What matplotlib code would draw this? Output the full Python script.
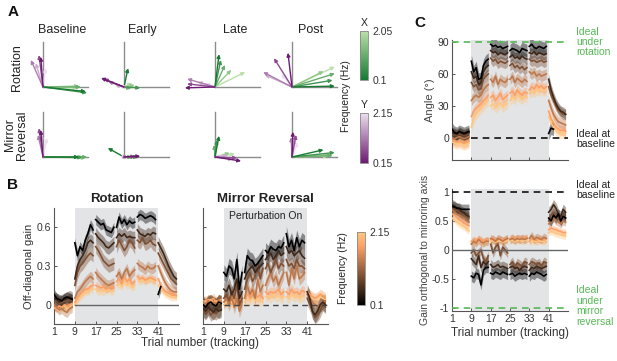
import matplotlib
matplotlib.use("Agg")
import matplotlib.pyplot as plt
import numpy as np
from matplotlib.colors import LinearSegmentedColormap, Normalize
from matplotlib.cm import ScalarMappable

plt.rcParams["font.family"] = ["Liberation Sans", "DejaVu Sans"]

nan = np.nan

# ---------------- data ----------------
phases = ["Baseline", "Early", "Late", "Post"]
block_starts = [1, 9, 17, 25, 33, 41]
trial_ticks = [1, 9, 17, 25, 33, 41]

# panel A: hand vectors, listed from low to high frequency
rot_x_vecs = [
    [(0.95, -0.10), (0.98, -0.13), (0.84, 0.00), (0.80, 0.02), (0.76, -0.02)],
    [(0.09, 0.42), (0.36, -0.02), (0.16, -0.04), (0.24, 0.04), (0.18, 0.09)],
    [(0.09, 0.73), (0.13, 0.60), (0.22, 0.49), (0.36, 0.38), (0.67, 0.33)],
    [(0.95, 0.02), (0.90, 0.15), (0.95, 0.30), (0.70, 0.35), (0.95, 0.45)],
]
rot_y_vecs = [
    [(-0.05, 0.67), (-0.09, 0.71), (-0.27, 0.60), (-0.16, 0.53), (0.06, 0.42)],
    [(-0.51, 0.20), (-0.45, 0.18), (-0.35, 0.12), (-0.20, 0.04), (-0.10, 0.02)],
    [(-0.67, -0.02), (-0.62, 0.07), (-0.62, 0.18), (-0.38, 0.11), (-0.22, 0.09)],
    [(-0.09, 0.76), (-0.40, 0.64), (-0.64, 0.33), (-0.60, 0.27), (-0.24, 0.29)],
]
mir_x_vecs = [
    [(0.80, 0.00), (0.87, -0.01), (0.98, 0.00), (0.95, -0.02), (0.90, 0.00)],
    [(-0.36, 0.20), (0.31, 0.00), (0.18, 0.00), (0.25, 0.01), (0.20, -0.01)],
    [(0.09, 0.47), (0.04, 0.38), (-0.02, 0.27), (0.33, 0.09), (0.44, 0.07)],
    [(0.70, 0.16), (0.95, 0.10), (0.90, 0.03), (0.85, 0.05), (0.80, 0.02)],
]
mir_y_vecs = [
    [(-0.05, 0.60), (-0.09, 0.64), (-0.11, 0.49), (-0.03, 0.50), (0.09, 0.42)],
    [(0.36, 0.02), (0.25, 0.01), (-0.05, -0.04), (0.10, 0.00), (0.05, -0.02)],
    [(0.58, -0.09), (0.49, -0.02), (0.40, -0.05), (0.29, 0.04), (0.20, 0.02)],
    [(0.02, 0.56), (0.09, 0.49), (-0.02, 0.44), (0.05, 0.40), (0.13, 0.33)],
]

# panel B: off-diagonal gain, 48 trials, low -> high frequency
rot_gain = [
    [0.08, 0.05, 0.04, 0.03, 0.05, 0.06, 0.05, 0.04,
     0.48, 0.38, 0.45, 0.42, 0.50, 0.55, 0.62, 0.58,
     0.66, 0.64, 0.62, 0.63, 0.58, 0.57, 0.56, 0.60,
     0.60, 0.68, 0.63, 0.66, 0.62, 0.65, 0.63, 0.64,
     0.68, 0.70, 0.69, 0.67, 0.68, 0.69, 0.68, 0.66,
     0.08, 0.14, nan, nan, nan, nan, nan, nan],
    [0.05, 0.04, 0.02, 0.03, 0.04, 0.05, 0.06, 0.05,
     0.20, 0.30, 0.35, 0.38, 0.42, 0.48, 0.50, 0.48,
     0.55, 0.52, 0.50, 0.48, 0.45, 0.44, 0.46, 0.48,
     0.52, 0.55, 0.53, 0.55, 0.52, 0.53, 0.52, 0.52,
     0.58, 0.55, 0.54, 0.53, 0.55, 0.54, 0.56, 0.55,
     0.48, 0.44, 0.40, 0.35, 0.30, 0.26, 0.22, 0.20],
    [0.02, 0.03, 0.01, 0.02, 0.03, 0.02, 0.04, 0.03,
     0.15, 0.25, 0.30, 0.32, 0.35, 0.38, 0.40, 0.38,
     0.45, 0.42, 0.38, 0.34, 0.32, 0.30, 0.31, 0.32,
     0.45, 0.50, 0.46, 0.42, 0.45, 0.50, 0.48, 0.44,
     0.50, 0.48, 0.52, 0.47, 0.48, 0.50, 0.47, 0.46,
     0.40, 0.36, 0.32, 0.28, 0.24, 0.20, 0.18, 0.16],
    [0.00, -0.02, -0.04, -0.03, -0.05, -0.06, -0.03, -0.02,
     0.05, 0.10, 0.12, 0.15, 0.18, 0.20, 0.22, 0.20,
     0.25, 0.22, 0.20, 0.18, 0.16, 0.15, 0.16, 0.17,
     0.22, 0.25, 0.20, 0.25, 0.28, 0.22, 0.25, 0.27,
     0.32, 0.30, 0.29, 0.27, 0.30, 0.28, 0.28, 0.30,
     0.30, 0.25, 0.20, 0.16, 0.13, 0.11, 0.10, 0.10],
    [-0.02, -0.03, -0.01, -0.02, 0.00, -0.01, 0.00, 0.01,
     0.02, 0.05, 0.08, 0.10, 0.12, 0.12, 0.14, 0.15,
     0.15, 0.14, 0.13, 0.14, 0.12, 0.13, 0.14, 0.13,
     0.18, 0.20, 0.16, 0.22, 0.18, 0.20, 0.16, 0.18,
     0.22, 0.20, 0.21, 0.19, 0.20, 0.21, 0.20, 0.19,
     0.20, 0.15, 0.12, 0.10, 0.09, 0.08, 0.08, 0.07],
    [-0.03, -0.02, -0.04, -0.02, -0.01, -0.03, -0.02, 0.00,
     0.00, 0.04, 0.06, 0.08, 0.10, 0.10, 0.12, 0.12,
     0.12, 0.10, 0.11, 0.10, 0.11, 0.12, 0.10, 0.11,
     0.15, 0.16, 0.14, 0.18, 0.15, 0.16, 0.13, 0.15,
     0.20, 0.18, 0.19, 0.18, 0.19, 0.20, 0.18, 0.19,
     0.15, 0.12, 0.10, 0.08, 0.07, 0.06, 0.06, 0.06],
]
rot_gain_sem = [0.04, 0.05, 0.05, 0.04, 0.03, 0.03]

mir_gain = [
    [0.00, -0.02, 0.01, 0.02, 0.00, -0.01, 0.02, 0.01,
     0.25, 0.22, 0.30, 0.28, 0.20, 0.35, 0.12, 0.25,
     0.25, 0.38, 0.35, 0.34, 0.30, 0.32, 0.35, 0.38,
     0.42, 0.40, 0.45, 0.43, 0.42, 0.45, 0.44, 0.48,
     0.55, 0.45, 0.50, 0.42, 0.52, 0.45, 0.50, 0.48,
     nan, nan, nan, nan, nan, nan, nan, nan],
    [-0.03, -0.05, -0.02, -0.04, -0.06, -0.03, -0.05, -0.04,
     0.12, 0.10, 0.15, 0.08, 0.12, 0.20, 0.05, 0.10,
     0.20, 0.25, 0.28, 0.30, 0.25, 0.28, 0.30, 0.32,
     0.35, 0.38, 0.40, 0.35, 0.38, 0.42, 0.38, 0.40,
     0.45, 0.40, 0.42, 0.38, 0.40, 0.42, 0.38, 0.36,
     0.10, 0.05, -0.05, -0.08, -0.05, 0.00, 0.02, 0.00],
    [-0.05, -0.07, -0.04, -0.08, -0.06, -0.07, -0.05, -0.03,
     0.05, 0.08, 0.03, 0.10, 0.05, 0.15, 0.00, 0.05,
     0.12, 0.20, 0.25, 0.18, 0.22, 0.30, 0.20, 0.28,
     0.28, 0.32, 0.25, 0.30, 0.35, 0.28, 0.32, 0.30,
     0.35, 0.30, 0.32, 0.28, 0.35, 0.30, 0.30, 0.28,
     0.05, 0.00, -0.05, -0.10, -0.08, -0.05, 0.00, -0.02],
    [0.02, 0.00, 0.03, 0.01, 0.02, 0.00, 0.03, 0.02,
     0.02, 0.05, 0.00, 0.06, -0.02, 0.05, -0.05, 0.02,
     0.05, 0.15, 0.08, 0.12, 0.05, 0.20, 0.10, 0.15,
     0.15, 0.20, 0.25, 0.18, 0.22, 0.15, 0.20, 0.25,
     0.25, 0.15, 0.28, 0.20, 0.30, 0.20, 0.22, 0.25,
     0.08, 0.05, 0.02, 0.00, -0.02, 0.00, 0.02, 0.03],
    [0.03, 0.02, 0.04, 0.03, 0.05, 0.02, 0.03, 0.04,
     0.05, 0.03, 0.04, 0.06, 0.02, 0.04, 0.03, 0.05,
     0.05, 0.08, 0.06, 0.10, 0.07, 0.06, 0.08, 0.05,
     0.10, 0.08, 0.10, 0.09, 0.10, 0.12, 0.08, 0.10,
     0.10, 0.08, 0.12, 0.09, 0.10, 0.08, 0.11, 0.10,
     0.10, 0.08, 0.06, 0.05, 0.06, 0.08, 0.07, 0.05],
    [0.01, 0.03, 0.02, 0.04, 0.02, 0.03, 0.01, 0.02,
     0.00, 0.02, 0.03, 0.02, 0.00, 0.03, 0.02, 0.01,
     0.02, 0.04, 0.03, 0.05, 0.03, 0.04, 0.02, 0.05,
     0.06, 0.07, 0.05, 0.08, 0.06, 0.07, 0.05, 0.06,
     0.06, 0.05, 0.08, 0.06, 0.07, 0.05, 0.06, 0.07,
     0.08, 0.06, 0.05, 0.04, 0.05, 0.06, 0.05, 0.04],
]
mir_gain_sem = [0.06, 0.06, 0.05, 0.05, 0.04, 0.04]

# panel C: rotation angle (deg) and gain orthogonal to mirroring axis
rot_angle = [
    [8, 5, 4, 6, 5, 4, 5, 6,
     72, 62, 66, 55, 56, 68, 72, 74,
     88, 86, 87, 85, 86, 84, 85, 86,
     82, 84, 83, 82, 80, 84, 83, 82,
     86, 88, 85, 84, 86, 85, 84, 86,
     4, 9, 8, nan, nan, nan, nan, nan],
    [5, 4, 3, 5, 4, 3, 4, 5,
     62, 56, 58, 50, 52, 62, 66, 68,
     82, 80, 81, 78, 80, 79, 78, 80,
     76, 78, 75, 76, 74, 77, 75, 74,
     80, 79, 81, 78, 80, 79, 78, 79,
     55, 45, 38, 32, 28, 25, 24, 22],
    [2, 3, 2, 4, 3, 2, 3, 4,
     52, 48, 50, 45, 46, 55, 58, 60,
     75, 72, 74, 70, 72, 71, 70, 72,
     68, 70, 66, 68, 65, 67, 64, 66,
     74, 72, 73, 71, 72, 73, 71, 72,
     48, 40, 35, 30, 26, 24, 22, 22],
    [0, -1, 0, 1, 0, -1, 0, 1,
     35, 38, 40, 38, 40, 45, 48, 50,
     55, 52, 58, 50, 55, 53, 52, 55,
     55, 58, 52, 56, 54, 52, 55, 53,
     62, 60, 62, 58, 60, 58, 59, 60,
     35, 28, 22, 18, 15, 14, 13, 12],
    [-2, -3, -4, -3, -4, -5, -4, -3,
     20, 25, 28, 30, 32, 35, 37, 40,
     38, 40, 35, 38, 42, 36, 38, 40,
     42, 44, 40, 45, 42, 40, 43, 42,
     45, 48, 46, 50, 47, 49, 46, 48,
     25, 18, 14, 10, 8, 7, 7, 6],
    [-4, -5, -6, -5, -6, -7, -6, -5,
     10, 18, 22, 25, 28, 30, 33, 35,
     30, 32, 28, 30, 33, 29, 31, 32,
     35, 38, 36, 40, 38, 36, 39, 38,
     42, 44, 43, 45, 44, 46, 44, 45,
     20, 14, 10, 7, 5, 4, 4, 4],
]
rot_angle_sem = [6, 5, 5, 5, 5, 5]

mir_orth = [
    [0.75, 0.74, 0.72, 0.72, 0.70, 0.70, 0.70, 0.70,
     -0.45, -0.48, -0.40, -0.42, -0.60, -0.35, -0.30, -0.30,
     -0.40, -0.42, -0.38, -0.40, -0.42, -0.38, -0.40, -0.42,
     -0.42, -0.40, -0.45, -0.42, -0.40, -0.42, -0.40, -0.42,
     -0.45, -0.40, -0.42, -0.38, -0.40, -0.42, -0.45, -0.42,
     0.55, 0.50, 0.60, 0.55, 0.62, 0.50, 0.58, 0.55],
    [0.78, 0.76, 0.72, 0.70, 0.66, 0.64, 0.60, 0.58,
     -0.15, -0.20, -0.25, -0.10, -0.30, -0.20, -0.25, -0.20,
     -0.25, -0.30, -0.28, -0.25, -0.30, -0.28, -0.30, -0.32,
     -0.30, -0.28, -0.32, -0.30, -0.35, -0.30, -0.28, -0.30,
     -0.35, -0.30, -0.32, -0.28, -0.30, -0.32, -0.30, -0.28,
     0.65, 0.70, 0.78, 0.72, 0.62, 0.58, 0.70, 0.65],
    [0.72, 0.70, 0.68, 0.65, 0.62, 0.60, 0.57, 0.55,
     -0.05, 0.00, -0.10, -0.05, 0.00, -0.15, -0.20, -0.10,
     0.10, -0.05, 0.05, 0.10, -0.10, 0.05, 0.00, -0.05,
     -0.25, -0.20, -0.30, -0.22, -0.25, -0.28, -0.20, -0.22,
     -0.25, -0.20, -0.22, -0.25, -0.22, -0.28, -0.20, -0.22,
     0.50, 0.60, 0.65, 0.60, 0.55, 0.52, 0.60, 0.55],
    [0.70, 0.66, 0.62, 0.60, 0.56, 0.55, 0.50, 0.48,
     0.10, 0.15, 0.12, 0.18, 0.14, 0.12, 0.15, 0.15,
     0.20, 0.18, 0.15, 0.20, 0.18, 0.15, 0.18, 0.20,
     0.18, 0.20, 0.17, 0.20, 0.18, 0.20, 0.18, 0.20,
     0.20, 0.25, 0.18, 0.22, 0.20, 0.18, 0.22, 0.20,
     0.45, 0.50, 0.55, 0.50, 0.48, 0.45, 0.50, 0.48],
    [0.62, 0.60, 0.56, 0.52, 0.50, 0.46, 0.44, 0.42,
     0.15, 0.18, 0.16, 0.20, 0.18, 0.15, 0.17, 0.18,
     0.18, 0.20, 0.16, 0.18, 0.19, 0.17, 0.18, 0.20,
     0.20, 0.22, 0.19, 0.21, 0.20, 0.21, 0.20, 0.22,
     0.15, 0.20, 0.18, 0.16, 0.20, 0.18, 0.17, 0.20,
     0.35, 0.38, 0.36, 0.35, 0.33, 0.32, 0.30, 0.30],
    [0.55, 0.52, 0.48, 0.45, 0.42, 0.40, 0.36, 0.33,
     0.12, 0.14, 0.13, 0.15, 0.14, 0.12, 0.14, 0.15,
     0.15, 0.16, 0.14, 0.15, 0.16, 0.14, 0.15, 0.16,
     0.16, 0.17, 0.15, 0.16, 0.17, 0.15, 0.16, 0.17,
     0.14, 0.16, 0.15, 0.14, 0.16, 0.15, 0.14, 0.16,
     0.30, 0.32, 0.30, 0.28, 0.27, 0.26, 0.25, 0.24],
]
mir_orth_sem = [0.09, 0.09, 0.08, 0.07, 0.06, 0.06]

# ---------------- style ----------------
W, H = 617, 361
TXT = "#222222"
GRAY = "#8c8c8c"
SHADE = "#e3e4e6"
IDEAL_GREEN = "#55b955"
green_cmap = LinearSegmentedColormap.from_list("g", ["#177a32", "#b9e0a8"])
purple_cmap = LinearSegmentedColormap.from_list("p", ["#6d1a72", "#ebdfee"])
copper = plt.get_cmap("copper")

fig = plt.figure(figsize=(W / 100, H / 100), dpi=100)


def rect(l, t, r, b):
    return [l / W, 1 - b / H, (r - l) / W, (b - t) / H]


def ftext(x, y, s, **kw):
    kw.setdefault("color", TXT)
    fig.text(x / W, 1 - y / H, s, **kw)


def style_axes(ax):
    for side in ("top", "right"):
        ax.spines[side].set_visible(False)
    for side in ("left", "bottom"):
        ax.spines[side].set_color("#555555")
        ax.spines[side].set_linewidth(0.8)
    ax.tick_params(direction="in", length=2.5, width=0.7, colors="#555555",
                   labelcolor="#333333", labelsize=7.5, pad=2)
    ax.patch.set_alpha(0)


def draw_series(ax, series, sems):
    n = len(series)
    for i in reversed(range(n)):
        c = copper(i / (n - 1))
        y_all = np.array(series[i], dtype=float)
        for s in block_starts:
            x = np.arange(s, s + 8)
            y = y_all[s - 1:s + 7]
            ax.fill_between(x, y - sems[i], y + sems[i], color=c, alpha=0.4,
                            lw=0, zorder=2)
            ax.plot(x, y, color=c, lw=1.2, zorder=3)


# ---------------- panel A ----------------
col_x = [43, 124, 215, 292]
row_y = [87, 157]
U = 45.0
for r, (xv, yv) in enumerate([(rot_x_vecs, rot_y_vecs), (mir_x_vecs, mir_y_vecs)]):
    for c in range(4):
        ox, oy = col_x[c], row_y[r]
        ax = fig.add_axes(rect(ox - 0.85 * U, oy - 1.05 * U, ox + 1.15 * U, oy + 0.3 * U))
        ax.set_xlim(-0.85, 1.15)
        ax.set_ylim(-0.3, 1.05)
        ax.axis("off")
        ax.plot([0, 1], [0, 0], color=GRAY, lw=1, zorder=1)
        ax.plot([0, 0], [0, 1], color=GRAY, lw=1, zorder=1)
        for vecs, cmap in ((xv[c], green_cmap), (yv[c], purple_cmap)):
            n = len(vecs)
            for k in reversed(range(n)):
                dx, dy = vecs[k]
                ax.annotate("", xy=(dx, dy), xytext=(0, 0),
                            arrowprops=dict(arrowstyle="-|>", color=cmap(k / (n - 1)),
                                            lw=1.0, mutation_scale=5,
                                            shrinkA=0, shrinkB=0))

for c, name in enumerate(phases):
    ftext([62, 142, 235, 311][c], 30, name, fontsize=9, ha="center", va="center")
ftext(17, 68, "Rotation", fontsize=9, rotation=90, ha="center", va="center")
ftext(16, 135, "Mirror\nReversal", fontsize=9, rotation=90, ha="center",
      va="center", linespacing=1.0)

for cmap, top, bot, vmin, vmax, lab in ((green_cmap, 31, 80, 0.1, 2.05, "X"),
                                        (purple_cmap, 113, 163, 0.15, 2.15, "Y")):
    cax = fig.add_axes(rect(360, top, 368, bot))
    cb = fig.colorbar(ScalarMappable(norm=Normalize(vmin, vmax), cmap=cmap),
                      cax=cax, ticks=[vmin, vmax])
    cb.ax.set_yticklabels([f"{vmin:g}", f"{vmax:g}"])
    cb.ax.tick_params(length=0, labelsize=7.5, labelcolor="#333333", pad=3)
    cb.outline.set_edgecolor("#888888")
    cb.outline.set_linewidth(0.6)
    ftext(364, top - 8, lab, fontsize=7.5, ha="center", va="center")
ftext(346, 96, "Frequency (Hz)", fontsize=7.5, rotation=90, ha="center", va="center")

# ---------------- panel B ----------------
b_axes = []
for l, r, title, data, sems in ((54, 179, "Rotation", rot_gain, rot_gain_sem),
                                (203, 328, "Mirror Reversal", mir_gain, mir_gain_sem)):
    ax = fig.add_axes(rect(l, 208, r, 324))
    style_axes(ax)
    ax.set_xlim(1, 49)
    ax.set_ylim(-0.15, 0.75)
    ax.axvspan(9, 41, color=SHADE, lw=0, zorder=0)
    draw_series(ax, data, sems)
    ax.set_xticks(trial_ticks)
    ax.set_yticks([0, 0.3, 0.6])
    ax.set_title(title, fontsize=9.5, fontweight="bold", color=TXT, pad=4)
    b_axes.append(ax)

b_axes[0].set_yticklabels(["0", "0.3", "0.6"])
b_axes[0].set_ylabel("Off-diagonal gain", fontsize=8, color="#333333", labelpad=2)
b_axes[0].plot([9, 49], [0, 0], color="#666666", lw=1, zorder=4)
b_axes[1].set_yticklabels([])
b_axes[1].plot([9, 49], [0, 0], color="#444444", lw=1, ls=(0, (4, 3)), zorder=4)
b_axes[1].text(25, 0.69, "Perturbation On", fontsize=7.5, ha="center", va="center",
               color=TXT, zorder=5)
ftext(200, 343, "Trial number (tracking)", fontsize=8.5, ha="center", va="center",
      color="#333333")

cax = fig.add_axes(rect(357, 232, 365, 305))
cb = fig.colorbar(ScalarMappable(norm=Normalize(0.1, 2.15), cmap=copper),
                  cax=cax, ticks=[0.1, 2.15])
cb.ax.set_yticklabels(["0.1", "2.15"])
cb.ax.tick_params(length=0, labelsize=7.5, labelcolor="#333333", pad=3)
cb.outline.set_edgecolor("#888888")
cb.outline.set_linewidth(0.6)
ftext(343, 268, "Frequency (Hz)", fontsize=7.5, rotation=90, ha="center", va="center")

# ---------------- panel C ----------------
axc1 = fig.add_axes(rect(452, 40, 568, 160))
style_axes(axc1)
axc1.set_xlim(1, 49)
axc1.set_ylim(-21, 92)
axc1.axvspan(9, 41, color=SHADE, lw=0, zorder=0)
draw_series(axc1, rot_angle, rot_angle_sem)
axc1.set_xticks(trial_ticks)
axc1.set_xticklabels([])
axc1.set_yticks([0, 30, 60, 90])
axc1.plot([1, 49], [90, 90], color=IDEAL_GREEN, lw=1.2, ls=(0, (4, 3)), zorder=4,
          clip_on=False)
axc1.plot([9, 49], [0, 0], color="#111111", lw=1.2, ls=(0, (4, 3)), zorder=4)
axc1.set_ylabel("Angle (°)", fontsize=8, color="#444444", labelpad=2)

axc2 = fig.add_axes(rect(452, 189, 568, 311))
style_axes(axc2)
axc2.set_xlim(1, 49)
axc2.set_ylim(-1.05, 1.05)
axc2.axvspan(9, 41, color=SHADE, lw=0, zorder=0)
draw_series(axc2, mir_orth, mir_orth_sem)
axc2.set_xticks(trial_ticks)
axc2.set_yticks([-1, -0.5, 0, 0.5, 1])
axc2.set_yticklabels(["-1", "-0.5", "0", "0.5", "1"])
axc2.plot([1, 49], [1, 1], color="#111111", lw=1.2, ls=(0, (4, 3)), zorder=4)
axc2.plot([1, 49], [0, 0], color="#666666", lw=1, zorder=4)
axc2.plot([1, 49], [-1, -1], color=IDEAL_GREEN, lw=1.2, ls=(0, (4, 3)), zorder=4)
axc2.set_ylabel("Gain orthogonal to mirroring axis", fontsize=7.5, color="#444444",
                labelpad=1)
axc2.set_xlabel("Trial number (tracking)", fontsize=8.5, color="#333333", labelpad=2)

ftext(576, 42, "Ideal\nunder\nrotation", fontsize=7.5, color=IDEAL_GREEN, ha="left",
      va="center", linespacing=1.05)
ftext(576, 139, "Ideal at\nbaseline", fontsize=7.5, ha="left", va="center",
      linespacing=1.05)
ftext(576, 190, "Ideal at\nbaseline", fontsize=7.5, ha="left", va="center",
      linespacing=1.05)
ftext(576, 306, "Ideal\nunder\nmirror\nreversal", fontsize=7.5, color=IDEAL_GREEN,
      ha="left", va="center", linespacing=1.05)

# ---------------- panel letters ----------------
for x, y, s in ((13, 12, "A"), (13, 185, "B"), (420, 23, "C")):
    ftext(x, y, s, fontsize=11, fontweight="bold", ha="center", va="center",
          color="#111111")

fig.savefig("out.png", dpi=100)
